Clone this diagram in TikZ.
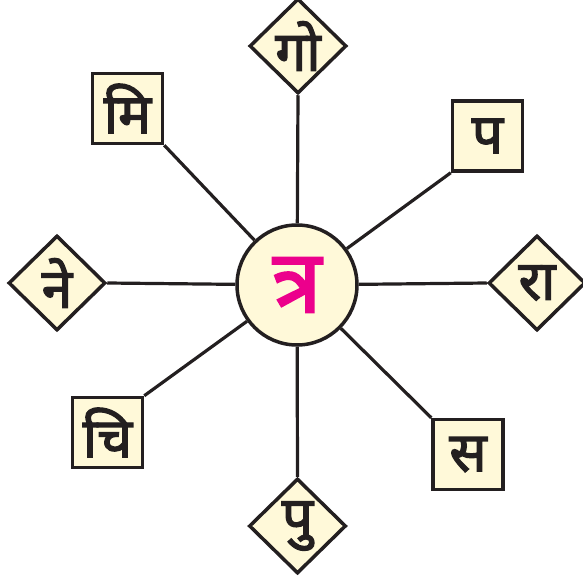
\documentclass[tikz,border=0pt]{standalone}
\usepackage{fontspec}
\newfontfamily\deva[Script=Devanagari,FakeBold=2.5]{Noto Sans}
\usetikzlibrary{shapes.geometric}
\definecolor{boxfill}{RGB}{255,249,217}
\definecolor{inkgray}{RGB}{35,31,32}
\definecolor{centremag}{RGB}{236,0,140}

\tikzset{
  letterbox/.style={draw=inkgray,line width=3.5pt,fill=boxfill,minimum size=70pt,inner sep=0pt,
    font=\deva\fontsize{55}{58}\selectfont,text=inkgray},
  letterdia/.style={diamond,draw=inkgray,line width=3.5pt,fill=boxfill,minimum width=97pt,minimum height=95pt,
    inner sep=0pt,font=\deva\fontsize{55}{58}\selectfont,text=inkgray},
  spoke/.style={draw=inkgray,line width=3.2pt}
}

\begin{document}
\begin{tikzpicture}[x=1pt,y=-1pt]
  \useasboundingbox (0,0) rectangle (583,583);
  % hub
  \node[circle,draw=inkgray,line width=3.5pt,fill=boxfill,minimum size=120pt,inner sep=0pt,
    font=\deva\fontsize{88}{90}\selectfont,text=centremag] (hub) at (297,285) {त्र};
  % outer letters
  \node[letterdia] (go) at (298,46) {गो};
  \node[letterbox] (mi) at (127.5,108.5) {मि};
  \node[letterbox] (pa) at (487.5,136) {प};
  \node[letterdia] (ne) at (57,283) {ने};
  \node[letterdia] (ra) at (537,283) {रा};
  \node[letterbox] (chi) at (107.5,432.5) {चि};
  \node[letterbox] (sa) at (468,454.5) {स};
  \node[letterdia] (pu) at (297.5,526) {पु};
  % spokes
  \draw[spoke] (hub) -- (go.south);
  \draw[spoke] (hub) -- (mi.south east);
  \draw[spoke] (hub) -- (pa.south west);
  \draw[spoke] (hub) -- (ne.east);
  \draw[spoke] (hub) -- (ra.west);
  \draw[spoke] (hub) -- (chi.north east);
  \draw[spoke] (hub) -- (sa.north west);
  \draw[spoke] (hub) -- (pu.north);
\end{tikzpicture}
\end{document}
